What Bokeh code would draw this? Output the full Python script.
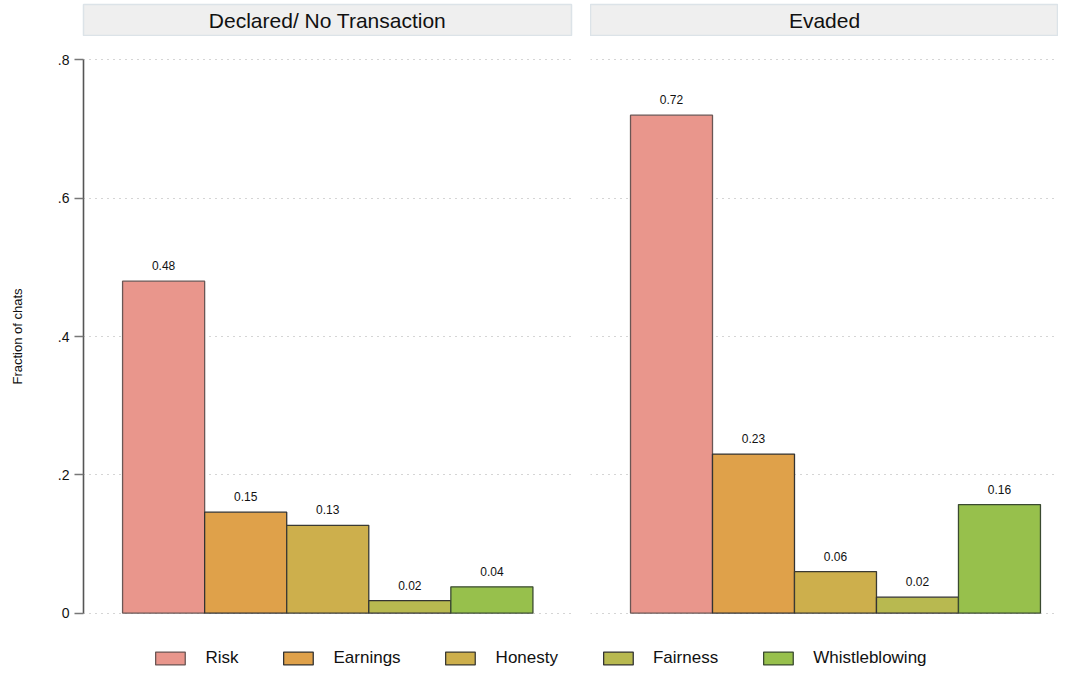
import numpy as np
from bokeh.plotting import figure
from bokeh.layouts import column, row
from bokeh.models import Range1d, FixedTicker, Label, Legend, LegendItem, ColumnDataSource
from bokeh.core.properties import value
from bokeh.embed import file_html
from bokeh.resources import INLINE

# ---- data ----
categories = ["Risk", "Earnings", "Honesty", "Fairness", "Whistleblowing"]
panel_titles = ["Declared/ No Transaction", "Evaded"]
declared = [0.480, 0.146, 0.127, 0.018, 0.038]
evaded = [0.720, 0.230, 0.060, 0.023, 0.157]
y_ticks = [0, 0.2, 0.4, 0.6, 0.8]
y_tick_labels = ["0", ".2", ".4", ".6", ".8"]
y_label = "Fraction of chats"

# ---- styles ----
colors = ["#E9968C", "#DFA14A", "#CDAF4C", "#B8B950", "#97C04C"]
outline = ["#6a5654", "#333333", "#3a3a33", "#333333", "#3a4a30"]
FONT = "Liberation Sans"

FRAME_H = 556
TOP_B = 22
BOT_B = 16


def make_source(vals):
    return ColumnDataSource(dict(
        x=list(range(1, len(categories) + 1)),
        top=vals,
        color=colors,
        line=outline,
        label=[f"{v:.2f}" for v in vals],
    ))


def make_panel(vals, width, left_b, right_b, xr, show_axis):
    p = figure(width=width, height=TOP_B + FRAME_H + BOT_B,
               x_range=Range1d(*xr), y_range=Range1d(-0.002, 0.802),
               output_backend="svg", toolbar_location=None,
               min_border_left=left_b, min_border_right=right_b,
               min_border_top=TOP_B, min_border_bottom=BOT_B)
    p.outline_line_color = None
    p.background_fill_color = "white"
    p.border_fill_color = "white"
    p.xaxis.visible = False
    p.xgrid.visible = False
    p.ygrid.ticker = FixedTicker(ticks=y_ticks)
    p.ygrid.grid_line_color = "#aaaaaa"
    p.ygrid.grid_line_dash = "1 5"
    p.ygrid.grid_line_width = 1

    src = make_source(vals)
    p.vbar(x="x", top="top", bottom=0, width=1.0, source=src,
           fill_color="color", line_color="line", line_width=1.3)
    p.text(x="x", y="top", text="label", source=src,
           text_align="center", text_baseline="bottom", y_offset=-11,
           text_font=value(FONT), text_font_size="12px", text_color="#111111")

    if show_axis:
        ax = p.yaxis[0]
        ax.ticker = FixedTicker(ticks=y_ticks)
        ax.major_label_overrides = {t: l for t, l in zip(y_ticks, y_tick_labels)}
        ax.bounds = (0, 0.8)
        ax.axis_line_color = "#555555"
        ax.axis_line_width = 1.6
        ax.major_tick_line_color = "#777777"
        ax.major_tick_line_width = 1.6
        ax.major_tick_out = 9
        ax.major_tick_in = 0
        ax.minor_tick_line_color = None
        ax.major_label_standoff = 5
        ax.major_label_text_font = FONT
        ax.major_label_text_font_size = "14px"
        ax.major_label_text_color = "#111111"
        ax.axis_label = y_label
        ax.axis_label_text_font = FONT
        ax.axis_label_text_font_size = "13px"
        ax.axis_label_text_font_style = "normal"
        ax.axis_label_text_color = "#111111"
        ax.axis_label_standoff = 30
    else:
        p.yaxis.visible = False
    return p


def make_header(title, width, left_b, right_b):
    h = figure(width=width, height=36, x_range=Range1d(0, 1), y_range=Range1d(0, 1),
               output_backend="svg", toolbar_location=None,
               min_border_left=left_b, min_border_right=right_b,
               min_border_top=4, min_border_bottom=0)
    h.axis.visible = False
    h.grid.visible = False
    h.background_fill_color = "#EFEFEF"
    h.border_fill_color = "white"
    h.outline_line_color = "#DCE3E8"
    h.outline_line_width = 1.5
    h.add_layout(Label(x=0.5, y=0.5, text=title, text_align="center",
                       text_baseline="middle", text_font=FONT,
                       text_font_size="21px", text_color="#111111"))
    return h


LEFT_W = 83 + 488 + 19
RIGHT_W = 468

h1 = make_header(panel_titles[0], LEFT_W, 83, 19)
p1 = make_panel(declared, LEFT_W, 83, 19, (0.024, 5.97), True)
h2 = make_header(panel_titles[1], RIGHT_W, 0, 0)
p2 = make_panel(evaded, RIGHT_W, 0, 0, (0.012, 5.72), False)

# legend figure: swatch renderer carries only the category styles (no drawable geometry)
lf = figure(width=LEFT_W + RIGHT_W, height=44, x_range=Range1d(0, 1), y_range=Range1d(0, 1),
            output_backend="svg", toolbar_location=None,
            min_border_left=20, min_border_right=0, min_border_top=12, min_border_bottom=0)
lf.axis.visible = False
lf.grid.visible = False
lf.outline_line_color = None
legend_src = ColumnDataSource(dict(
    x=np.full(len(categories), np.nan),
    top=np.full(len(categories), np.nan),
    color=colors,
    line=outline,
))
lr = lf.vbar(x="x", top="top", bottom=0, width=1.0, source=legend_src,
             fill_color="color", line_color="line", line_width=1.3)
items = [LegendItem(label=cat, renderers=[lr], index=i) for i, cat in enumerate(categories)]
legend = Legend(items=items, orientation="horizontal", location="center",
                glyph_width=37, glyph_height=16, label_standoff=17, spacing=41,
                padding=0, margin=0, border_line_color=None, background_fill_alpha=0,
                label_text_font=FONT, label_text_font_size="17px",
                label_text_color="#111111")
lf.add_layout(legend)

layout = column(row(column(h1, p1), column(h2, p2)), lf)

open("out.html", "w").write(file_html(layout, INLINE))
